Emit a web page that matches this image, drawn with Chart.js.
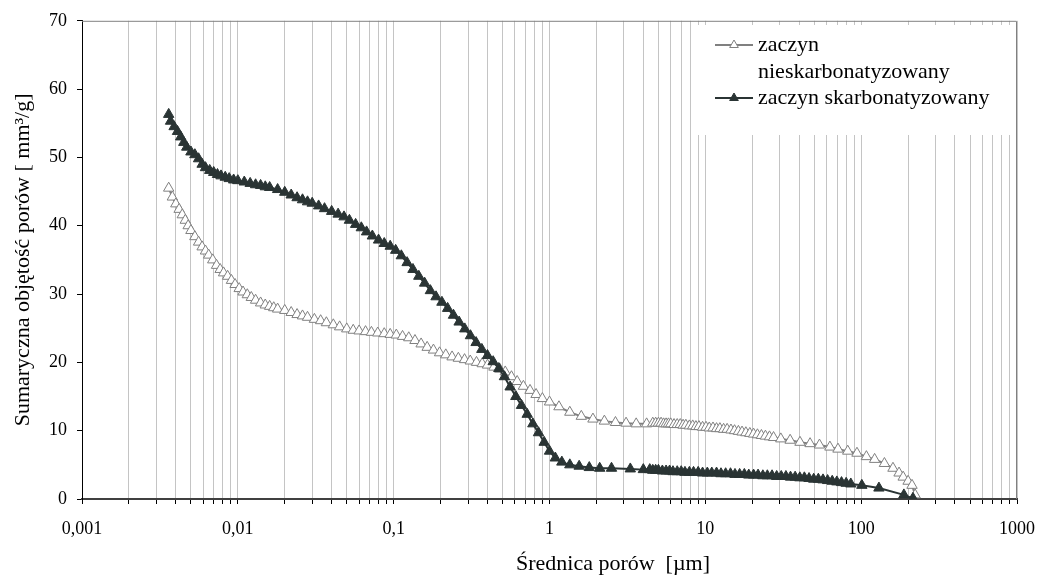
<!DOCTYPE html>
<html>
<head>
<meta charset="utf-8">
<script src="https://cdn.jsdelivr.net/npm/chart.js@4.4.0/dist/chart.umd.min.js"></script>
<style>
	html, body { margin: 0; padding: 0; background: #fff; }
	#wrap { width: 1052px; height: 577px; }
</style>
</head>
<body>
<div id="wrap"><canvas id="chart" width="1052" height="577"></canvas></div>
<script>

// Pore diameter [um] and cumulative pore volume [mm3/g]
// zaczyn nieskarbonatyzowany (open grey triangles)
var sizesNies = [
	0.0036, 0.0038, 0.0040, 0.0042, 0.0044, 0.0046, 0.0048, 0.0050, 0.0053, 0.0056,
	0.0059, 0.0062, 0.0065, 0.0069, 0.0073, 0.0077, 0.0081, 0.0086, 0.0091, 0.0096,
	0.0102, 0.0108, 0.0115, 0.0122, 0.013, 0.014, 0.015, 0.016, 0.017, 0.018,
	0.020, 0.022, 0.024, 0.026, 0.028, 0.031, 0.034, 0.037, 0.041, 0.045,
	0.050, 0.055, 0.060, 0.066, 0.072, 0.079, 0.087, 0.095, 0.104, 0.114,
	0.125, 0.137, 0.150, 0.164, 0.180, 0.197, 0.216, 0.237, 0.26, 0.285,
	0.31, 0.34, 0.37, 0.40, 0.44, 0.48, 0.52, 0.57, 0.62, 0.68,
	0.75, 0.82, 0.90, 1.0, 1.15, 1.35, 1.6, 1.9, 2.25, 2.65,
	3.1, 3.6, 4.2, 4.6, 4.8, 5.0, 5.2, 5.4, 5.6, 5.8,
	6.0, 6.3, 6.6, 6.9, 7.2, 7.5, 7.9, 8.3, 8.7, 9.1,
	9.6, 10.1, 10.6, 11.2, 11.8, 12.4, 13.1, 13.8, 14.6, 15.4,
	16.3, 17.2, 18.2, 19.3, 20.4, 21.6, 22.9, 24.3, 25.8, 27.4,
	30.5, 35, 40.5, 47, 54, 63, 71, 82, 94, 108,
	122, 141, 160, 175, 186, 200, 212, 222
];
var volNies = [
	45.5, 44.2, 43.2, 42.4, 41.6, 40.8, 40.0, 39.3, 38.4, 37.6,
	36.9, 36.3, 35.7, 35.0, 34.2, 33.6, 33.1, 32.6, 32.0, 31.4,
	30.8, 30.3, 29.9, 29.5, 29.1, 28.7, 28.4, 28.2, 28.0, 27.8,
	27.6, 27.3, 27.0, 26.8, 26.6, 26.3, 26.1, 25.8, 25.5, 25.2,
	24.9, 24.7, 24.6, 24.5, 24.4, 24.3, 24.2, 24.1, 24.0, 23.8,
	23.6, 23.2, 22.7, 22.2, 21.8, 21.4, 21.1, 20.8, 20.6, 20.4,
	20.2, 20.0, 19.8, 19.6, 19.3, 19.0, 18.6, 17.9, 17.2, 16.5,
	15.9, 15.3, 14.7, 14.2, 13.5, 12.7, 12.1, 11.7, 11.4, 11.2,
	11.1, 11.0, 11.0, 11.1, 11.1, 11.1, 11.1, 11.0, 11.0, 11.0,
	11.0, 10.9, 10.9, 10.9, 10.8, 10.8, 10.7, 10.7, 10.6, 10.6,
	10.5, 10.5, 10.4, 10.4, 10.3, 10.3, 10.2, 10.2, 10.1, 10.0,
	9.9, 9.8, 9.7, 9.6, 9.5, 9.4, 9.3, 9.2, 9.1, 9.0,
	8.8, 8.6, 8.3, 8.1, 7.9, 7.6, 7.3, 7.0, 6.7, 6.2,
	5.8, 5.2, 4.5, 3.8, 3.2, 2.6, 2.0, 0.6
];

// zaczyn skarbonatyzowany (filled dark triangles)
var sizesSkarb = [
	0.0036, 0.0037, 0.0039, 0.0041, 0.0043, 0.0045, 0.0047, 0.0050, 0.0053, 0.0056,
	0.0059, 0.0062, 0.0066, 0.0070, 0.0074, 0.0078, 0.0083, 0.0088, 0.0094, 0.010,
	0.011, 0.012, 0.013, 0.014, 0.015, 0.016, 0.018, 0.020, 0.022, 0.024,
	0.026, 0.028, 0.030, 0.033, 0.036, 0.040, 0.044, 0.048, 0.052, 0.057,
	0.062, 0.067, 0.073, 0.080, 0.087, 0.095, 0.103, 0.112, 0.122, 0.133,
	0.145, 0.158, 0.172, 0.187, 0.204, 0.222, 0.242, 0.263, 0.286, 0.311,
	0.338, 0.368, 0.400, 0.435, 0.473, 0.514, 0.559, 0.608, 0.661, 0.719,
	0.782, 0.850, 0.924, 1.00, 1.09, 1.20, 1.35, 1.55, 1.80, 2.10,
	2.50, 3.30, 4.00, 4.4, 4.6, 4.8, 5.0, 5.3, 5.6, 5.9,
	6.2, 6.6, 7.0, 7.4, 7.9, 8.4, 9.0, 9.6, 10.3, 11.0,
	11.8, 12.6, 13.5, 14.5, 15.5, 16.6, 17.8, 19.0, 20.4, 21.8,
	23.4, 25.0, 26.8, 28.7, 30.7, 32.9, 35.2, 37.7, 40.4, 43.2,
	46.3, 49.6, 53.1, 56.9, 60.9, 65.2, 69.8, 74.8, 80.1, 85.8,
	101, 130, 188, 215
];
var volSkarb = [
	56.3, 55.3, 54.5, 53.8, 53.0, 52.2, 51.5, 50.8, 50.4, 49.8,
	49.0, 48.5, 48.1, 47.8, 47.5, 47.3, 47.1, 46.9, 46.7, 46.6,
	46.4, 46.2, 46.0, 45.9, 45.7, 45.6, 45.3, 44.9, 44.5, 44.1,
	43.8, 43.5, 43.3, 42.9, 42.5, 42.1, 41.7, 41.3, 40.8, 40.2,
	39.7, 39.1, 38.5, 37.9, 37.4, 37.0, 36.4, 35.6, 34.6, 33.6,
	32.6, 31.6, 30.5, 29.6, 28.8, 27.9, 26.9, 25.9, 24.9, 23.9,
	22.9, 21.9, 21.0, 20.1, 19.1, 17.9, 16.4, 15.0, 13.7, 12.4,
	11.0, 9.7, 8.3, 7.0, 6.0, 5.4, 5.0, 4.8, 4.6, 4.5,
	4.5, 4.4, 4.3, 4.3, 4.2, 4.2, 4.2, 4.1, 4.1, 4.1,
	4.0, 4.0, 4.0, 3.9, 3.9, 3.9, 3.9, 3.8, 3.8, 3.8,
	3.8, 3.7, 3.7, 3.7, 3.6, 3.6, 3.6, 3.5, 3.5, 3.5,
	3.4, 3.4, 3.4, 3.3, 3.3, 3.3, 3.2, 3.2, 3.1, 3.1,
	3.0, 2.9, 2.9, 2.8, 2.7, 2.6, 2.5, 2.4, 2.3, 2.2,
	2.0, 1.6, 0.6, 0.1
];

// Axis ticks and texts
var decades = [0.001, 0.01, 0.1, 1, 10, 100, 1000];
var decadeLabels = ['0,001', '0,01', '0,1', '1', '10', '100', '1000'];
var xTitle = 'Średnica porów  [µm]';
var yTitle = 'Sumaryczna objętość porów [ mm³/g]';
var legendLines = [['zaczyn', 'nieskarbonatyzowany'], ['zaczyn skarbonatyzowany']];

var greyColour = '#808080';
var darkColour = '#2a3434';
var serif = "'Liberation Serif', 'Times New Roman', serif";

function toPoints(xs, ys) {
	return xs.map((x, i) => ({x: x, y: ys[i]}));
}

// Vertical gridlines at 1..9 of each decade
var gridValues = [];
decades.forEach(d => {
	if (d === 1000) { gridValues.push(d); return; }
	for (var k = 1; k <= 9; k++) {
		gridValues.push(k === 1 ? d : d * k);
	}
});

function triangle(ctx, x, y, r, fill, stroke) {
	ctx.beginPath();
	ctx.moveTo(x, y - r);
	ctx.lineTo(x + r * 0.866, y + r * 0.5);
	ctx.lineTo(x - r * 0.866, y + r * 0.5);
	ctx.closePath();
	ctx.fillStyle = fill;
	ctx.fill();
	ctx.strokeStyle = stroke;
	ctx.lineWidth = 1;
	ctx.stroke();
}

// Frame, legend box and x axis title
var extrasPlugin = {
	id: 'extras',
	beforeDatasetsDraw: function (chart) {
		var a = chart.chartArea;
		var ctx = chart.ctx;
		ctx.save();
		ctx.strokeStyle = '#808080';
		ctx.lineWidth = 1;
		ctx.beginPath();
		ctx.moveTo(a.left, a.top + 0.5);
		ctx.lineTo(a.right - 0.5, a.top + 0.5);
		ctx.lineTo(a.right - 0.5, a.bottom);
		ctx.stroke();
		ctx.restore();
	},
	afterDatasetsDraw: function (chart) {
		var ctx = chart.ctx;
		ctx.save();

		// Legend box (white, no border, covers the gridlines)
		ctx.fillStyle = '#fff';
		ctx.fillRect(695, 25, 321, 110);

		ctx.font = '22px ' + serif;
		ctx.textBaseline = 'middle';
		ctx.textAlign = 'left';

		// First item
		ctx.strokeStyle = greyColour;
		ctx.lineWidth = 2;
		ctx.beginPath();
		ctx.moveTo(715, 45);
		ctx.lineTo(753, 45);
		ctx.stroke();
		triangle(ctx, 734, 45, 5, '#fff', greyColour);
		ctx.fillStyle = '#000';
		ctx.fillText(legendLines[0][0], 758, 45);
		ctx.fillText(legendLines[0][1], 758, 72);

		// Second item
		ctx.strokeStyle = darkColour;
		ctx.lineWidth = 2;
		ctx.beginPath();
		ctx.moveTo(715, 98);
		ctx.lineTo(753, 98);
		ctx.stroke();
		triangle(ctx, 734, 98, 5, darkColour, darkColour);
		ctx.fillStyle = '#000';
		ctx.fillText(legendLines[1][0], 758, 98);

		// X axis title
		ctx.textAlign = 'center';
		ctx.fillText(xTitle, 613, 564);
		ctx.restore();
	}
};

new Chart(document.getElementById('chart').getContext('2d'), {
	type: 'scatter',
	data: {
		datasets: [
			{
				label: 'zaczyn skarbonatyzowany',
				data: toPoints(sizesSkarb, volSkarb),
				showLine: true,
				borderColor: darkColour,
				borderWidth: 2,
				pointStyle: 'triangle',
				pointRadius: 6,
				pointBorderWidth: 1,
				pointBackgroundColor: darkColour,
				pointBorderColor: darkColour,
				order: 0
			},
			{
				label: 'zaczyn nieskarbonatyzowany',
				data: toPoints(sizesNies, volNies),
				showLine: true,
				borderColor: greyColour,
				borderWidth: 2,
				pointStyle: 'triangle',
				pointRadius: 6,
				pointBorderWidth: 1,
				pointBackgroundColor: '#fff',
				pointBorderColor: greyColour,
				order: 1
			}
		]
	},
	options: {
		responsive: false,
		animation: false,
		layout: {
			padding: {left: 0, right: 35, top: 20, bottom: 0}
		},
		plugins: {
			legend: {display: false},
			tooltip: {enabled: false}
		},
		scales: {
			x: {
				type: 'logarithmic',
				position: 'bottom',
				min: 0.001,
				max: 1000,
				afterBuildTicks: function (scale) {
					scale.ticks = gridValues.map(v => ({value: v}));
				},
				afterFit: function (scale) {
					scale.height = 78;
				},
				ticks: {
					autoSkip: false,
					maxRotation: 0,
					padding: 14,
					color: '#000',
					font: {family: serif, size: 18},
					callback: function (value) {
						var i = decades.indexOf(value);
						return i >= 0 ? decadeLabels[i] : '';
					}
				},
				grid: {
					color: '#c4c4c4',
					lineWidth: 1,
					tickColor: '#000',
					tickLength: 5
				},
				border: {color: '#404040', width: 2}
			},
			y: {
				min: 0,
				max: 70,
				afterFit: function (scale) {
					scale.width = 82;
				},
				ticks: {
					stepSize: 10,
					padding: 10,
					color: '#000',
					font: {family: serif, size: 18}
				},
				grid: {
					drawOnChartArea: false,
					tickColor: '#000',
					tickLength: 5
				},
				border: {color: '#000', width: 1},
				title: {
					display: true,
					text: yTitle,
					color: '#000',
					font: {family: serif, size: 22},
					padding: {top: 10, bottom: 0}
				}
			}
		}
	},
	plugins: [extrasPlugin]
});
</script>
</body>
</html>
